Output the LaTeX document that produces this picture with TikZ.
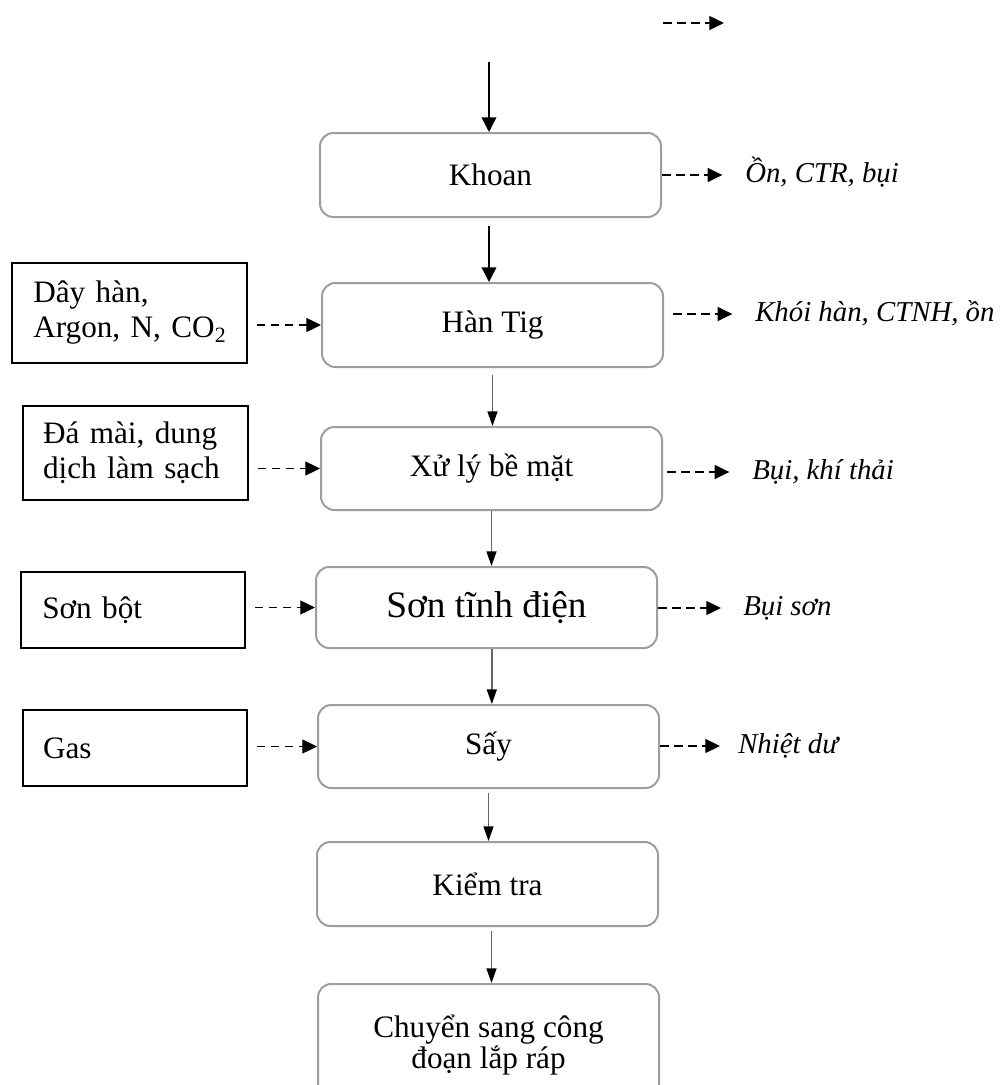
\documentclass[tikz,border=0pt]{standalone}
\usepackage{fontspec}
\setmainfont{Liberation Serif}
\usetikzlibrary{arrows.meta}
\begin{document}
\begin{tikzpicture}[x=0.75pt,y=-0.75pt,
  every node/.style={font=\fontsize{23.4}{26.25}\selectfont},
  stage/.style={draw=black!38, line width=1.5pt, rounded corners=10pt,
    minimum width=255.75pt, minimum height=63pt, inner sep=0pt, align=center},
  inbox/.style={draw=black, line width=1.2pt, align=left, inner xsep=3pt, inner ysep=0pt},
  outlabel/.style={anchor=west, inner sep=0pt, font=\fontsize{21.6}{24}\selectfont\itshape,
    text height=15pt, text depth=4.5pt},
  mainflow/.style={black, line width=1.1pt, -{Triangle[length=11pt,width=11pt]}},
  subflow/.style={black!60, line width=1.1pt, -{Triangle[length=11pt,width=7.5pt,color=black]}},
  sideflow/.style={black, line width=0.9pt, dash pattern=on 6.5pt off 4pt,
    -{Triangle[length=11pt,width=10.5pt]}}
]
\useasboundingbox (0,0) rectangle (1002,1085);

% legend arrow at the top
\coordinate (lg1) at (663,23);
\coordinate (lg2) at (724,23);
\draw[sideflow] (lg1) -- (lg2);

% process stages
\node[stage] (khoan) at (490.5,175) {Khoan};
\node[stage] (han) at (492.5,325) {Hàn Tig};
\node[stage, minimum height=62.25pt] (xuly) at (491.5,468.5) {Xử lý bề mặt};
\node[stage, minimum height=60.75pt, font=\fontsize{28}{31}\selectfont] (son) at (486.5,607.5) {Sơn tĩnh điện};
\node[stage, minimum height=62.25pt] (say) at (488.5,746.5) {Sấy};
\node[stage] (kiem) at (487.5,884) {Kiểm tra};
\node[stage, minimum height=91.5pt, font=\fontsize{23.4}{21.5}\selectfont] (chuyen) at (488.5,1045) {Chuyển sang công\\đoạn lắp ráp};

% input materials (text set flush left with an indent)
\node[inbox, text width=170.25pt, minimum height=75pt,
  execute at begin node={\leftskip=13pt}] (day) at (129.5,313) {Dây hàn,\\Argon, N, CO\textsubscript{2}};
\node[inbox, text width=162.75pt, minimum height=70.5pt,
  execute at begin node={\leftskip=12pt}] (da) at (135.5,453) {Đá mài, dung\\dịch làm sạch};
\node[inbox, text width=162pt, minimum height=57pt,
  execute at begin node={\leftskip=13pt}] (sonbot) at (133,610) {Sơn bột};
\node[inbox, text width=162pt, minimum height=57pt,
  execute at begin node={\leftskip=12pt}] (gas) at (135,748) {Gas};

% emissions
\node[outlabel] (e1) at (745,175) {Ồn, CTR, bụi};
\node[outlabel] (e2) at (755,314) {Khói hàn, CTNH, ồn};
\node[outlabel] (e3) at (752,472) {Bụi, khí thải};
\node[outlabel] (e4) at (743,608) {Bụi sơn};
\node[outlabel] (e5) at (738,746) {Nhiệt dư};

% main flow
\coordinate (start) at (489,62);
\draw[mainflow] (start) -- (start |- khoan.north);
\draw[mainflow] ([yshift=-6pt]khoan.south -| start) -- (han.north -| start);
\draw[subflow] ([yshift=-5pt]han.south) -- (han.south |- xuly.north);
\draw[subflow] (xuly.south) -- (xuly.south |- son.north);
\draw[subflow] ([xshift=4pt]son.south) -- ([xshift=4pt]son.south |- say.north);
\draw[subflow] ([yshift=-3pt]say.south) -- (say.south |- kiem.north);
\draw[subflow] ([yshift=-3pt,xshift=3pt]kiem.south) -- ([xshift=3pt]kiem.south |- chuyen.north);

% inputs
\draw[sideflow] ([xshift=6.75pt]day.east |- han.west) -- (han.west);
\draw[sideflow] ([xshift=6.75pt]da.east |- xuly.west) -- (xuly.west);
\draw[sideflow] ([xshift=6.75pt]sonbot.east |- son.west) -- (son.west);
\draw[sideflow] ([xshift=6.75pt]gas.east |- say.west) -- (say.west);

% outputs
\draw[sideflow] (khoan.east |- e1.west) -- ([xshift=-17pt]e1.west);
\draw[sideflow] ([xshift=7pt]han.east |- e2.west) -- ([xshift=-17pt]e2.west);
\draw[sideflow] ([xshift=3pt]xuly.east |- e3.west) -- ([xshift=-17pt]e3.west);
\draw[sideflow] (son.east |- e4.west) -- ([xshift=-16.5pt]e4.west);
\draw[sideflow] (say.east |- e5.west) -- ([xshift=-13.5pt]e5.west);
\end{tikzpicture}
\end{document}
